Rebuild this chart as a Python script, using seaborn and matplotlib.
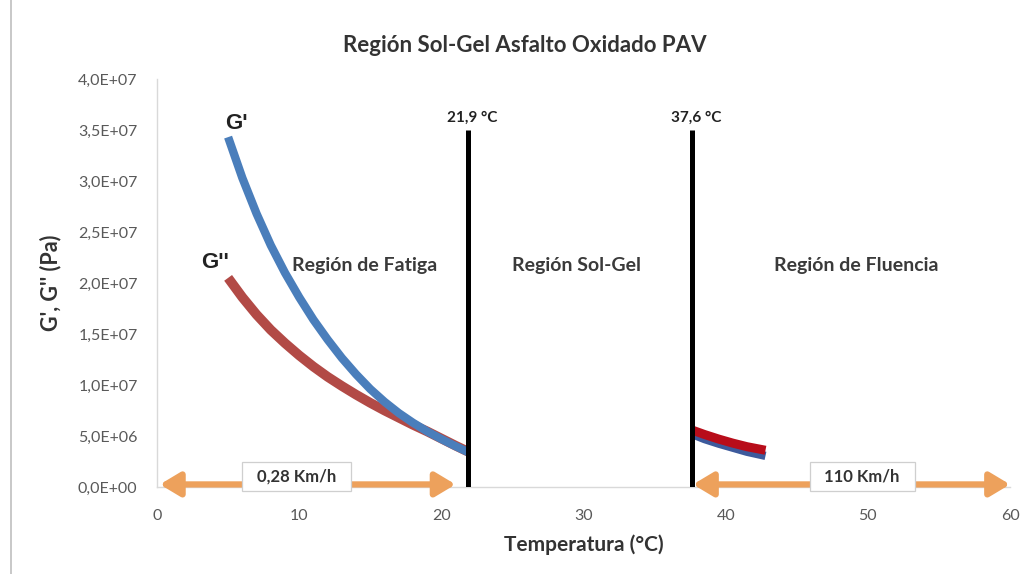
import numpy as np
import pandas as pd
import matplotlib
matplotlib.use("Agg")
import matplotlib.pyplot as plt
import seaborn as sns
from matplotlib.lines import Line2D

# Temperatures (°C) and moduli (Pa) in the fatigue region
temp_low = [5, 6, 7, 8, 9, 10, 11, 12, 13, 14, 15, 16, 17, 18, 19, 20, 21, 21.9]
g1_low = [3.43e7, 3.03e7, 2.68e7, 2.37e7, 2.10e7, 1.86e7, 1.64e7, 1.445e7, 1.265e7,
          1.105e7, 9.6e6, 8.35e6, 7.25e6, 6.3e6, 5.45e6, 4.7e6, 4.0e6, 3.4e6]
g2_low = [2.05e7, 1.86e7, 1.69e7, 1.54e7, 1.41e7, 1.29e7, 1.18e7, 1.08e7, 9.9e6,
          9.05e6, 8.25e6, 7.5e6, 6.8e6, 6.1e6, 5.45e6, 4.75e6, 4.05e6, 3.45e6]

# Temperatures (°C) and moduli (Pa) in the creep region
temp_high = [37.6, 38.5, 39.5, 40.5, 41.5, 42.8]
g1_high = [5.2e6, 4.7e6, 4.25e6, 3.85e6, 3.45e6, 3.05e6]
g2_high = [5.6e6, 5.15e6, 4.7e6, 4.3e6, 3.95e6, 3.6e6]

# Transition temperatures and their labels
transition_temps = [21.9, 37.6]
transition_labels = ["21,9 °C", "37,6 °C"]
transition_top = 3.5e7

# Speed ranges shown as double arrows along the axis
arrow_starts = [0.2, 37.7]
arrow_ends = [21.0, 60.0]
speed_labels = ["0,28 Km/h", "110 Km/h"]
speed_pos_x = [9.8, 49.6]

region_labels = ["Región de Fatiga", "Región Sol-Gel", "Región de Fluencia"]
region_pos_x = [14.6, 29.5, 49.2]

x_ticks = [0, 10, 20, 30, 40, 50, 60]
y_ticks = [0, 5e6, 1e7, 1.5e7, 2e7, 2.5e7, 3e7, 3.5e7, 4e7]
y_tick_labels = ["0,0E+00", "5,0E+06", "1,0E+07", "1,5E+07", "2,0E+07",
                 "2,5E+07", "3,0E+07", "3,5E+07", "4,0E+07"]

sns.set_theme(style="white")
plt.rcParams["font.family"] = ["Lato", "DejaVu Sans"]

BLUE = "#4a7ebb"
RED_LOW = "#b24a46"
RED_HIGH = "#b80d1a"
ORANGE = "#eda15c"
TEXT = "#333333"

fig = plt.figure(figsize=(10.23, 5.74), dpi=100)
ax = fig.add_axes([0.1535, 0.1516, 0.8338, 0.7108])

low = pd.DataFrame({"T": temp_low, "G1": g1_low, "G2": g2_low})
high = pd.DataFrame({"T": temp_high, "G1": g1_high, "G2": g2_high})

sns.lineplot(data=low, x="T", y="G2", color=RED_LOW, lw=7, ax=ax, solid_capstyle="butt")
sns.lineplot(data=low, x="T", y="G1", color=BLUE, lw=6, ax=ax, solid_capstyle="butt")
sns.lineplot(data=high, x="T", y="G1", color="#3d5a9c", lw=6, ax=ax, solid_capstyle="butt")
sns.lineplot(data=high, x="T", y="G2", color=RED_HIGH, lw=6.5, ax=ax, solid_capstyle="butt")

# Transition lines
ax.vlines(transition_temps, -0.05e6, transition_top, color="black", lw=3.6, zorder=5)
for t, lab in zip(transition_temps, transition_labels):
    ax.text(t + 0.3, transition_top + 0.5e6, lab, ha="center", va="bottom",
            fontsize=11, fontweight="bold", color="#222222")

# Speed arrows
for x0, x1 in zip(arrow_starts, arrow_ends):
    ax.annotate("", xy=(x1, 0.25e6), xytext=(x0, 0.25e6),
                arrowprops=dict(arrowstyle="<|-|>,head_length=1.0,head_width=0.6",
                                color=ORANGE, lw=4.5, shrinkA=0, shrinkB=0),
                zorder=4)
for x, lab in zip(speed_pos_x, speed_labels):
    ax.text(x, 1.05e6, "  " + lab + "  ", ha="center", va="center", fontsize=12,
            fontweight="bold", color=TEXT, zorder=6,
            bbox=dict(boxstyle="square,pad=0.4", fc="white", ec="#cfcfcf", lw=0.9))

for x, lab in zip(region_pos_x, region_labels):
    ax.text(x, 2.17e7, lab, ha="center", va="center", fontsize=14,
            fontweight="bold", color="#3a3a3a")

# Curve labels
ax.text(5.6, 3.56e7, "G'", ha="center", va="center", fontsize=16,
        fontweight="bold", color="#222222", family=["Liberation Sans", "DejaVu Sans"])
ax.text(4.1, 2.2e7, "G''", ha="center", va="center", fontsize=16,
        fontweight="bold", color="#222222", family=["Liberation Sans", "DejaVu Sans"])

ax.set_xlim(0, 60)
ax.set_ylim(0, 4e7)
ax.set_xticks(x_ticks)
ax.set_xticklabels([str(v) for v in x_ticks])
ax.set_yticks(y_ticks)
ax.set_yticklabels(y_tick_labels)
ax.tick_params(axis="both", labelsize=11.5, labelcolor="#595959", length=0)
ax.tick_params(axis="x", pad=16)
ax.tick_params(axis="y", pad=14)

for side in ["top", "right"]:
    ax.spines[side].set_visible(False)
for side in ["left", "bottom"]:
    ax.spines[side].set_color("#d9d9d9")
    ax.spines[side].set_linewidth(1.0)

ax.set_xlabel("Temperatura (°C)", fontsize=15, fontweight="bold", color=TEXT, labelpad=8)
ax.set_ylabel("G', G'' (Pa)", fontsize=15.5, fontweight="bold", color=TEXT, labelpad=12)
fig.text(525 / 1023, 1 - 45 / 574, "Región Sol-Gel Asfalto Oxidado PAV", ha="center",
         va="center", fontsize=16, fontweight="bold", color=TEXT)

# Chart frame edge on the left
fig.add_artist(Line2D([0.0105, 0.0105], [0, 1], transform=fig.transFigure,
                      color="#bfbfbf", lw=1.2))

fig.savefig("out.png", dpi=100, facecolor="white")
